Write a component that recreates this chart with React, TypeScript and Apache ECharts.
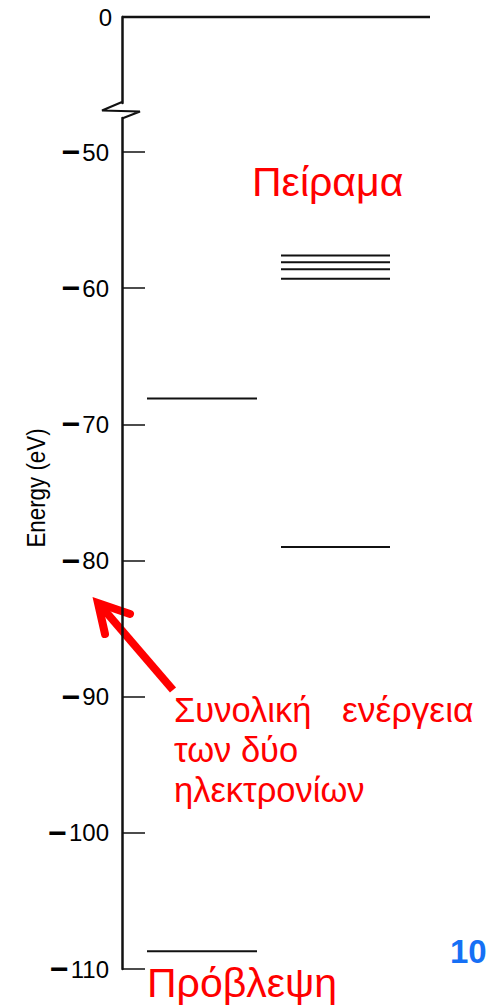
import React, { useEffect, useRef } from "react";
import * as echarts from "echarts";

// ---- data (energies in eV) ----
const thresholdLevels: number[] = [0];
const predictedLevels: number[] = [-68.1, -108.7];
const experimentLevels: number[] = [-57.6, -58.1, -58.6, -59.3, -79.0];
const yTicks: number[] = [-110, -100, -90, -80, -70, -60, -50];
const topTicks: number[] = [0];

// ---- texts ----
const axisTitle = "Energy (eV)";
const experimentLabel = "Πείραμα";
const predictionLabel = "Πρόβλεψη";
const noteWords1 = ["Συνολική", "ενέργεια"];
const noteLine2 = "των δύο";
const noteLine3 = "ηλεκτρονίων";
const pageNumber = "10";

// ---- layout (pixels, not data) ----
const W = 488;
const H = 1005;
const AXIS_X = 122;
const PLOT_W = 308;
const SPAN_THRESHOLD: [number, number] = [0, 308];
const SPAN_PRED: [number, number] = [25, 135];
const SPAN_EXP: [number, number] = [159, 268];
const FONT = '"Liberation Sans", Arial, Helvetica, sans-serif';
const RED = "#ff0000";
const INK = "#111111";

function levelSeries(levels: number[], span: [number, number], gridIdx: number, width: number) {
  return {
    type: "custom",
    xAxisIndex: gridIdx,
    yAxisIndex: gridIdx,
    clip: false,
    dimensions: ["energy"],
    encode: { y: 0 },
    data: levels.map((e) => [e]),
    renderItem: (_params: any, api: any) => {
      const e = api.value(0);
      const p0 = api.coord([span[0], e]);
      const p1 = api.coord([span[1], e]);
      return {
        type: "line",
        shape: { x1: p0[0], y1: p0[1], x2: p1[0], y2: p1[1] },
        style: { stroke: INK, lineWidth: width, lineCap: "butt" },
      };
    },
  };
}

const labelFmt = (v: number) =>
  v < 0 ? `{m|−}{n|${Math.abs(v)}}` : `{n|${v}}`;

const richLabel = {
  m: { fontSize: 32, fontWeight: "bold", fontFamily: FONT, color: "#000", padding: [0, 2, 0, 0] },
  n: { fontSize: 24, fontFamily: FONT, color: "#000" },
};

export default function App() {
  const ref = useRef<HTMLDivElement>(null);

  useEffect(() => {
    if (!ref.current) return;
    const chart = echarts.init(ref.current, undefined, { renderer: "svg" });
    const redText = (text: string, x: number, y: number, size: number) => ({
      type: "text",
      x,
      y,
      style: { text, fontSize: size, fontFamily: FONT, fill: RED, align: "left", verticalAlign: "middle" },
    });
    const option: any = {
      animation: false,
      backgroundColor: "#ffffff",
      grid: [
        { left: AXIS_X, top: 17, width: PLOT_W, height: 86 },
        { left: AXIS_X, top: 118, width: PLOT_W, height: 851 },
      ],
      xAxis: [
        { type: "value", gridIndex: 0, min: 0, max: PLOT_W, show: false },
        { type: "value", gridIndex: 1, min: 0, max: PLOT_W, show: false },
      ],
      yAxis: [
        {
          type: "value",
          gridIndex: 0,
          min: -1,
          max: 0,
          interval: 1,
          axisLine: { show: true, lineStyle: { color: INK, width: 2.5 } },
          axisTick: { show: false },
          splitLine: { show: false },
          axisLabel: {
            customValues: topTicks,
            margin: 10,
            formatter: labelFmt,
            rich: richLabel,
          },
        },
        {
          type: "value",
          gridIndex: 1,
          min: -110,
          max: -47.5,
          interval: 10,
          axisLine: { show: true, lineStyle: { color: INK, width: 2.5 } },
          axisTick: {
            show: true,
            inside: true,
            length: 23,
            customValues: yTicks,
            lineStyle: { color: INK, width: 1.5 },
          },
          splitLine: { show: false },
          axisLabel: {
            customValues: yTicks,
            margin: 13,
            formatter: labelFmt,
            rich: richLabel,
          },
        },
      ],
      series: [
        levelSeries(thresholdLevels, SPAN_THRESHOLD, 0, 2.5),
        levelSeries(predictedLevels, SPAN_PRED, 1, 2),
        levelSeries(experimentLevels, SPAN_EXP, 1, 2),
      ],
      graphic: [
        // axis break zigzag
        {
          type: "polyline",
          shape: { points: [[AXIS_X, 102], [102, 110.5], [140, 111.5], [AXIS_X, 118.5]] },
          style: { stroke: INK, lineWidth: 2, fill: "none", lineJoin: "miter" },
        },
        // axis title
        {
          type: "text",
          x: 36,
          y: 488,
          rotation: Math.PI / 2,
          scaleX: 0.86,
          style: {
            text: axisTitle,
            fontSize: 26,
            fontFamily: FONT,
            fill: "#000",
            align: "center",
            verticalAlign: "middle",
          },
        },
        redText(experimentLabel, 252, 182, 41),
        redText(predictionLabel, 147, 983, 41),
        redText(noteWords1[0], 174, 710, 34.5),
        redText(noteWords1[1], 342, 710, 35.5),
        redText(noteLine2, 174, 750, 34.5),
        redText(noteLine3, 174, 790, 34.5),
        {
          type: "text",
          x: 450,
          y: 951,
          style: { text: pageNumber, fontSize: 33, fontWeight: "bold", fontFamily: FONT, fill: "#1670f5", align: "left", verticalAlign: "middle" },
        },
        // red arrow
        {
          type: "line",
          shape: { x1: 173, y1: 690, x2: 100, y2: 605 },
          style: { stroke: RED, lineWidth: 8, lineCap: "butt" },
        },
        {
          type: "polyline",
          shape: { points: [[130, 614], [98, 603], [105, 634]] },
          style: { stroke: RED, lineWidth: 8, fill: "none", lineJoin: "miter", lineCap: "round", miterLimit: 10 },
        },
      ],
    };
    chart.setOption(option);
    return () => chart.dispose();
  }, []);

  return (
    <div
      ref={ref}
      style={{ position: "fixed", left: 0, top: 0, width: W, height: H, background: "#fff" }}
    />
  );
}
